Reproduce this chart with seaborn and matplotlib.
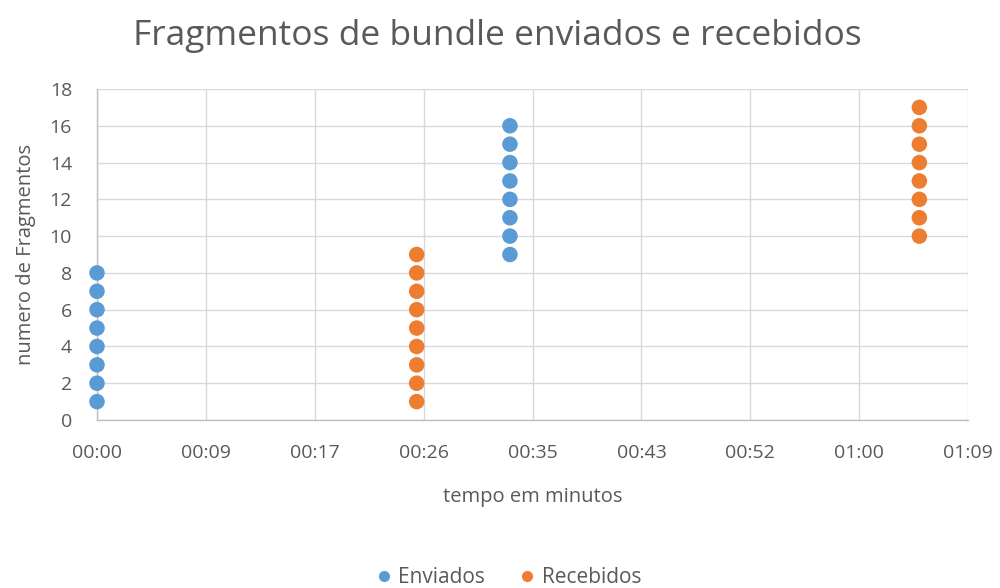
import matplotlib
matplotlib.use("Agg")
import matplotlib.pyplot as plt
import seaborn as sns
import pandas as pd

# Series data: time (minutes) and fragment number
enviados_tempo = [0.0] * 8 + [32.77] * 8
enviados_frag = [1, 2, 3, 4, 5, 6, 7, 8, 9, 10, 11, 12, 13, 14, 15, 16]
recebidos_tempo = [25.37] * 9 + [65.26] * 8
recebidos_frag = [1, 2, 3, 4, 5, 6, 7, 8, 9, 10, 11, 12, 13, 14, 15, 16, 17]

# Axis ticks (minutes) and their labels
x_ticks = [0, 8.64, 17.28, 25.92, 34.56, 43.2, 51.84, 60.48, 69.12]
x_tick_labels = ["00:00", "00:09", "00:17", "00:26", "00:35", "00:43", "00:52", "01:00", "01:09"]
y_ticks = [0, 2, 4, 6, 8, 10, 12, 14, 16, 18]

df = pd.DataFrame({
    "tempo": enviados_tempo + recebidos_tempo,
    "fragmentos": enviados_frag + recebidos_frag,
    "serie": ["Enviados"] * len(enviados_frag) + ["Recebidos"] * len(recebidos_frag),
})

sns.set_style("white")
plt.rcParams["font.family"] = ["Open Sans", "DejaVu Sans"]

fig = plt.figure(figsize=(10, 5.88), dpi=100)
ax = fig.add_axes([0.097, 0.2857, 0.871, 0.5629])

palette = {"Enviados": "#5B9BD5", "Recebidos": "#ED7D31"}
sns.scatterplot(data=df, x="tempo", y="fragmentos", hue="serie", palette=palette,
                s=125, linewidth=0, ax=ax, zorder=3, clip_on=False, legend=False)

ax.set_xlim(0, 69.12)
ax.set_ylim(0, 18)
ax.set_xticks(x_ticks)
ax.set_xticklabels(x_tick_labels)
ax.set_yticks(y_ticks)
ax.grid(True, color="#D9D9D9", linewidth=1)
ax.set_axisbelow(True)
for side in ["top", "right"]:
    ax.spines[side].set_visible(False)
for side in ["left", "bottom"]:
    ax.spines[side].set_color("#BFBFBF")
    ax.spines[side].set_linewidth(1)
ax.tick_params(axis="both", length=0, labelsize=14, colors="#595959")
ax.tick_params(axis="x", pad=17)
ax.tick_params(axis="y", pad=18)

ax.set_xlabel("tempo em minutos", fontsize=14.5, color="#595959", labelpad=18)
ax.set_ylabel("numero de Fragmentos", fontsize=14.5, color="#595959", labelpad=10)

fig.suptitle("Fragmentos de bundle enviados e recebidos", fontsize=25.5, color="#595959",
             x=0.497, y=0.968)

handles = [plt.Line2D([], [], marker="o", linestyle="", markersize=8,
                      markerfacecolor=palette[k], markeredgewidth=0, label=k)
           for k in ["Enviados", "Recebidos"]]
fig.legend(handles=handles, loc="center", bbox_to_anchor=(0.502, 0.018), ncol=2,
           frameon=False, fontsize=15, handletextpad=-0.3, columnspacing=1.0,
           labelcolor="#595959")

fig.savefig("out.png", dpi=100, facecolor="white")
